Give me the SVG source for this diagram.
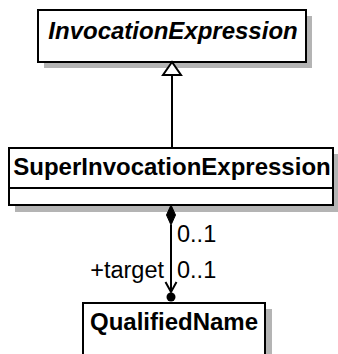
<svg xmlns="http://www.w3.org/2000/svg" width="338" height="354" viewBox="0 0 338 354">
<style>
.box{fill:#fff;stroke:#000;stroke-width:2}
.sh{fill:#b4b4b4}
.t{font-family:"Liberation Sans",Arial,sans-serif;font-size:24px;font-weight:bold;fill:#000}
.l{font-family:"Liberation Sans",Arial,sans-serif;font-size:23.5px;fill:#000}
.ln{stroke:#000;stroke-width:2;fill:none}
</style>
<rect width="338" height="354" fill="#fff"/>
<g id="InvocationExpression">
<rect class="sh" x="44" y="16" width="268" height="52"/>
<rect class="box" x="38" y="10" width="268" height="52"/>
<text class="t" x="173" y="39" text-anchor="middle" font-style="italic">InvocationExpression</text>
</g>
<g id="SuperInvocationExpression">
<rect class="sh" x="15" y="154" width="324" height="58"/>
<rect class="box" x="9" y="148" width="324" height="57"/>
<line class="ln" x1="9" y1="188" x2="333" y2="188"/>
<text class="t" x="172" y="175" text-anchor="middle">SuperInvocationExpression</text>
</g>
<g id="QualifiedName">
<rect class="sh" x="89" y="309" width="183" height="60"/>
<rect class="box" x="83" y="303" width="182" height="60"/>
<text class="t" x="174" y="330" text-anchor="middle">QualifiedName</text>
</g>
<g id="connectors">
<line class="ln" x1="172" y1="75" x2="172" y2="148"/>
<polygon points="172,62 163,75 181,75" fill="#fff" stroke="#000" stroke-width="2"/>
<line class="ln" x1="171" y1="225" x2="171" y2="292"/>
<polygon points="171,205 175.5,215 171,225 166.5,215" fill="#000" stroke="#000" stroke-width="1"/>
<polyline class="ln" points="165.5,282 171,292 176.5,282"/>
<circle cx="171" cy="297" r="4.5" fill="#000"/>
<text class="l" x="177" y="242">0..1</text>
<text class="l" x="177" y="278">0..1</text>
<text class="l" x="164" y="278" text-anchor="end">+target</text>
</g>
</svg>
